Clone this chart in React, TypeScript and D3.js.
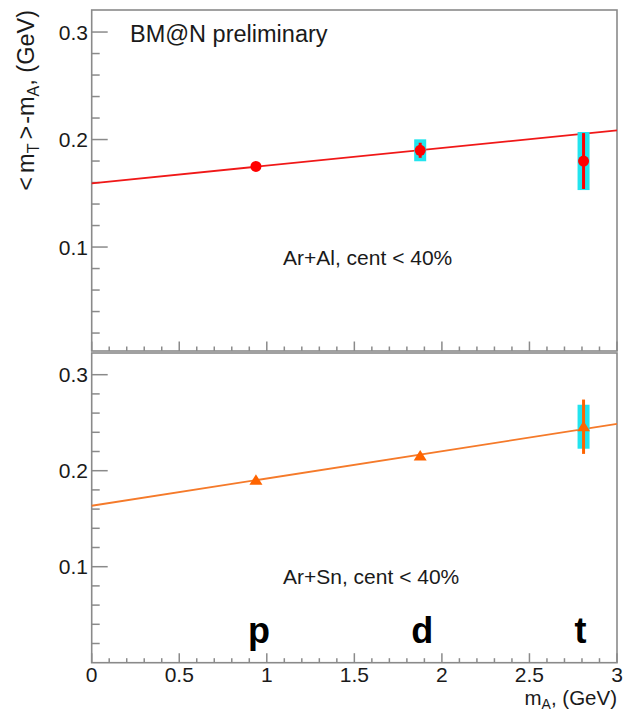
import React from "react";
import * as d3 from "d3";

const masses = [0.938, 1.876, 2.809];
const particleLabels = ["p", "d", "t"];

const arAlMean = [0.175, 0.19, 0.18];
const arAlStat = [0, 0.007, 0.026];
const arAlSys = [0, 0.0102, 0.027];
const arAlFit = [0.1593, 0.0164]; // intercept, slope

const arSnMean = [0.19, 0.2153, 0.2458];
const arSnStat = [0, 0, 0.0283];
const arSnSys = [0, 0, 0.0229];
const arSnFit = [0.1635, 0.0284];

const yMajorTicks = [0.1, 0.2, 0.3];
const yMinorTicks = [0.02, 0.04, 0.06, 0.08, 0.12, 0.14, 0.16, 0.18, 0.22, 0.24, 0.26, 0.28];
const xMajorTicks = [0, 0.5, 1, 1.5, 2, 2.5, 3];

const FRAME = "#8a8a8a";
const TXT = "#1a1a1a";
const FONT = "'Liberation Sans', Arial, Helvetica, sans-serif";

export default function App() {
  const x = d3.scaleLinear().domain([0, 3]).range([91.7, 617]);
  const yTop = d3.scaleLinear().domain([0.0033, 0.3205]).range([351, 10]);
  const yBot = d3.scaleLinear().domain([0, 0.3226]).range([662.7, 353]);
  const xMinor = d3.range(0, 31).map((i) => i / 10).filter((v) => Math.abs(v * 2 - Math.round(v * 2)) > 1e-6);
  const fmt = d3.format("");

  const panel = (
    y: d3.ScaleLinear<number, number>,
    mean: number[],
    stat: number[],
    sys: number[],
    fit: number[],
    color: string,
    lineColor: string,
    marker: "circle" | "triangle",
    label: string,
    labelY: number,
    showXLabels: boolean,
    key: string
  ) => {
    const [y0, y1] = y.range();
    const fitLine = d3
      .line<number>()
      .x((v) => x(v))
      .y((v) => y(fit[0] + fit[1] * v));
    return (
      <g key={key}>
        <rect x={x(0)} y={y1} width={x(3) - x(0)} height={y0 - y1} fill="white" stroke={FRAME} strokeWidth={1.6} />
        {yMajorTicks.map((t) => (
          <g key={"ym" + t}>
            <line x1={x(0)} x2={x(0) + 16} y1={y(t)} y2={y(t)} stroke={FRAME} strokeWidth={1.5} />
            <text x={88} y={y(t) + 7.5} textAnchor="end" fontSize={21} fill={TXT} fontFamily={FONT}>
              {fmt(t)}
            </text>
          </g>
        ))}
        {yMinorTicks.map((t) => (
          <line key={"yn" + t} x1={x(0)} x2={x(0) + 8} y1={y(t)} y2={y(t)} stroke={FRAME} strokeWidth={1.5} />
        ))}
        {xMajorTicks.map((t) => (
          <line key={"xm" + t} x1={x(t)} x2={x(t)} y1={y0} y2={y0 - 9.5} stroke={FRAME} strokeWidth={1.5} />
        ))}
        {xMinor.map((t) => (
          <line key={"xn" + t} x1={x(t)} x2={x(t)} y1={y0} y2={y0 - 4.5} stroke={FRAME} strokeWidth={1.5} />
        ))}
        {showXLabels &&
          xMajorTicks.map((t) => (
            <text key={"xl" + t} x={x(t)} y={682} textAnchor="middle" fontSize={21} fill={TXT} fontFamily={FONT}>
              {fmt(t)}
            </text>
          ))}
        <path d={fitLine([0, 3]) || ""} fill="none" stroke={lineColor} strokeWidth={1.8} />
        {masses.map((m, i) =>
          sys[i] > 0 ? (
            <rect
              key={"sys" + i}
              x={x(m) - 6}
              width={12}
              y={y(mean[i] + sys[i])}
              height={y(mean[i] - sys[i]) - y(mean[i] + sys[i])}
              fill="#22e4ee"
            />
          ) : null
        )}
        {masses.map((m, i) =>
          stat[i] > 0 ? (
            <line
              key={"stat" + i}
              x1={x(m)}
              x2={x(m)}
              y1={y(mean[i] + stat[i])}
              y2={y(mean[i] - stat[i])}
              stroke={color}
              strokeWidth={3}
            />
          ) : null
        )}
        {masses.map((m, i) =>
          marker === "circle" ? (
            <circle key={"mk" + i} cx={x(m)} cy={y(mean[i])} r={5.5} fill={color} />
          ) : (
            <path
              key={"mk" + i}
              d={`M${x(m)},${y(mean[i]) - 6} L${x(m) + 6.5},${y(mean[i]) + 4.5} L${x(m) - 6.5},${y(mean[i]) + 4.5} Z`}
              fill={color}
            />
          )
        )}
        <text x={283} y={labelY} fontSize={21} fill={TXT} fontFamily={FONT}>
          {label}
        </text>
      </g>
    );
  };

  return (
    <svg
      width={624}
      height={711}
      style={{ position: "absolute", left: 0, top: 0, background: "white" }}
      fontFamily={FONT}
    >
      <rect width={624} height={711} fill="white" />
      {panel(yTop, arAlMean, arAlStat, arAlSys, arAlFit, "#ff0000", "#f01818", "circle", "Ar+Al, cent < 40%", 265, false, "top")}
      {panel(yBot, arSnMean, arSnStat, arSnSys, arSnFit, "#ff6400", "#f57a2a", "triangle", "Ar+Sn, cent < 40%", 584, true, "bot")}
      <text x={130} y={42} fontSize={23.5} fill={TXT}>
        BM@N preliminary
      </text>
      <text transform="translate(34,10) rotate(-90)" textAnchor="end" fontSize={23.5} fill={TXT}>
        <tspan>{"<"}</tspan>
        <tspan dx={4}>m</tspan>
        <tspan fontSize={16} dy={5}>T</tspan>
        <tspan dy={-5} dx={4}>{">"}</tspan>
        <tspan dx={2}>-m</tspan>
        <tspan fontSize={16} dy={5}>A</tspan>
        <tspan dy={-5}>, (GeV)</tspan>
      </text>
      <text x={617} y={705} textAnchor="end" fontSize={20.5} fill={TXT}>
        m
        <tspan fontSize={14} dy={4}>A</tspan>
        <tspan dy={-4}>, (GeV)</tspan>
      </text>
      {masses.map((m, i) => (
        <text key={"pl" + i} x={x(m) + (i === 0 ? 3 : i === 1 ? 2 : -3)} y={643} textAnchor="middle" fontSize={36} fontWeight="bold" fill="#000">
          {particleLabels[i]}
        </text>
      ))}
    </svg>
  );
}
